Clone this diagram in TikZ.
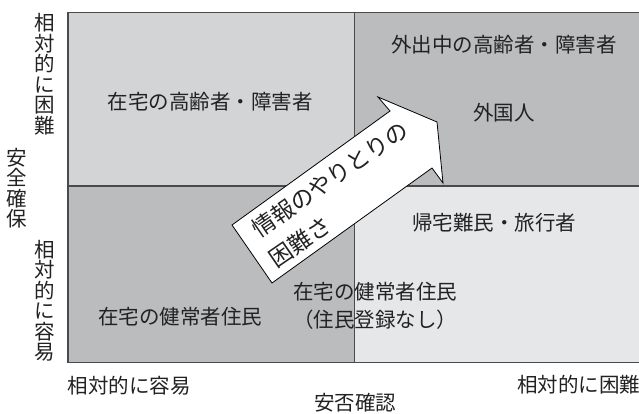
\documentclass[tikz,border=0pt]{standalone}
\usepackage{fontspec}
\setmainfont{Noto Sans CJK JP}
\definecolor{qA}{HTML}{D3D4D6}
\definecolor{qB}{HTML}{BBBCBE}
\definecolor{qC}{HTML}{E6E7E8}
\definecolor{edge}{HTML}{4A4A4A}
\definecolor{txt}{HTML}{222222}
\begin{document}
\begin{tikzpicture}[x=1pt,y=-1pt,
  lbl/.style={font=\fontsize{20.5}{20.5}\selectfont, text=txt, inner sep=0pt},
  vlbl/.style={lbl, align=center},
  arrtxt/.style={font=\fontsize{23}{23}\selectfont, text=txt, inner sep=0pt, rotate=34.5},
  bigarrow/.style={draw=black, fill=white, line width=0.8pt, line join=miter}]
\useasboundingbox (0,0) rectangle (639,413);
% quadrants
\fill[qA] (68,12.5) rectangle (354,186);
\fill[qB] (354,12.5) rectangle (641,186);
\fill[qB] (68,186) rectangle (354,362.5);
\fill[qC] (354,186) rectangle (641,362.5);
\draw[line width=1.2pt, edge] (641,12.5) -- (68,12.5) -- (68,362.5) -- (641,362.5);
\draw[line width=1.8pt, edge] (68,186) -- (641,186);
\draw[line width=1pt, edge] (354,12.5) -- (354,362.5);
% quadrant labels
\node[lbl] (tl) at (210,102) {在宅の高齢者・障害者};
\node[lbl] (tr1) at (504,45) {外出中の高齢者・障害者};
\node[lbl] (tr2) at (504,113) {外国人};
\node[lbl] (br) at (494,223) {帰宅難民・旅行者};
\node[lbl] (bl) at (180,317) {在宅の健常者住民};
\node[lbl] (mid1) at (375,292) {在宅の健常者住民};
\node[lbl] (mid2) at (375,320) {（住民登録なし）};
% arrow
\draw[bigarrow]
  (232,225) -- (390,111) -- (378,97) -- (437,122) -- (443,183) -- (432,168) -- (272,283) -- cycle;
\node[arrtxt] (a1) at (330,179) {情報のやりとりの};
\node[arrtxt] (a2) at (300,242) {困難さ};
% axes labels
\node[vlbl] (yhard) at (45,74) {相\\対\\的\\に\\困\\難};
\node[vlbl] (ysafe) at (17,188) {安\\全\\確\\保};
\node[vlbl] (yeasy) at (45,301) {相\\対\\的\\に\\容\\易};
\node[lbl] (xeasy) at (129,386) {相対的に容易};
\node[lbl, anchor=west] (xhard) at (517,385) {相対的に困難};
\node[lbl] (xconf) at (355,403) {安否確認};
\end{tikzpicture}
\end{document}
